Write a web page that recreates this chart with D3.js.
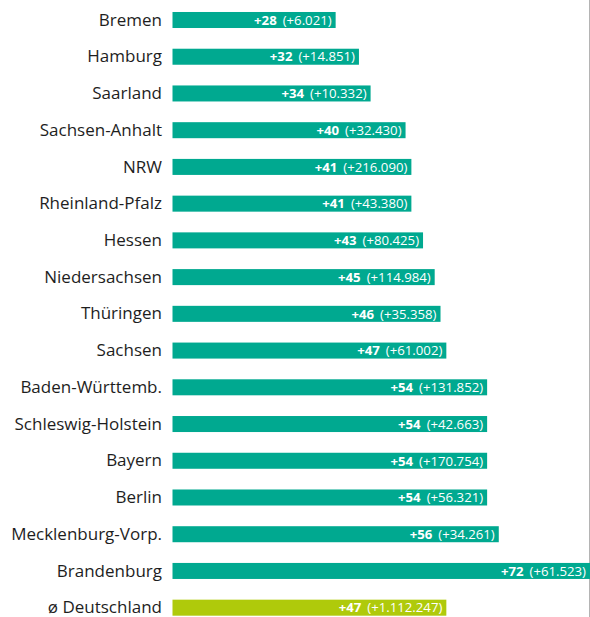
<!DOCTYPE html>
<html>
<head>
<meta charset="utf-8">
<script src="https://cdn.jsdelivr.net/npm/d3@7"></script>
<style>
  html, body { margin: 0; padding: 0; background: #fff; }
  svg { display: block; }
</style>
</head>
<body>
<script>
'use strict';

// values
const states = ['Bremen', 'Hamburg', 'Saarland', 'Sachsen-Anhalt', 'NRW', 'Rheinland-Pfalz',
  'Hessen', 'Niedersachsen', 'Thüringen', 'Sachsen', 'Baden-Württemb.', 'Schleswig-Holstein',
  'Bayern', 'Berlin', 'Mecklenburg-Vorp.', 'Brandenburg', 'ø Deutschland'];
const percent = [28, 32, 34, 40, 41, 41, 43, 45, 46, 47, 54, 54, 54, 54, 56, 72, 47];
const absolute = ['6.021', '14.851', '10.332', '32.430', '216.090', '43.380', '80.425',
  '114.984', '35.358', '61.002', '131.852', '42.663', '170.754', '56.321', '34.261',
  '61.523', '1.112.247'];

const width = 590;
const height = 617;
const labelX = 162;
const teal = '#00a990';
const lime = '#afca0b';
const font = '"Open Sans", sans-serif';

const data = states.map((name, i) => ({ name, pct: percent[i], abs: absolute[i] }));

const svg = d3.select('body').append('svg')
  .attr('width', width)
  .attr('height', height);

const x = d3.scaleLinear()
  .domain([0, 72])
  .range([172.5, 592]);

const step = 36.73;
const y = d3.scaleBand()
  .domain(states)
  .range([20 - step / 2, 20 - step / 2 + step * states.length])
  .paddingInner(0.564)
  .paddingOuter(0.282);

// thin reference line on the right edge
svg.append('line')
  .attr('x1', 589.5).attr('x2', 589.5)
  .attr('y1', 0).attr('y2', height)
  .attr('stroke', '#b4b4b4')
  .attr('stroke-width', 1);

const row = svg.selectAll('.row')
  .data(data)
  .enter().append('g')
  .attr('class', 'row');

row.append('text')
  .attr('x', labelX)
  .attr('y', (d) => y(d.name) + y.bandwidth() / 2)
  .attr('dy', '0.33em')
  .attr('text-anchor', 'end')
  .attr('fill', '#1e1e1e')
  .style('font-family', font)
  .style('font-size', '17px')
  .text((d) => d.name);

row.append('rect')
  .attr('x', x(0))
  .attr('y', (d) => y(d.name))
  .attr('width', (d) => x(d.pct) - x(0))
  .attr('height', y.bandwidth())
  .attr('fill', (d, i) => i === data.length - 1 ? lime : teal);

const val = row.append('text')
  .attr('x', (d) => Math.min(x(d.pct), 590) - 4)
  .attr('y', (d) => y(d.name) + y.bandwidth() / 2)
  .attr('dy', '0.36em')
  .attr('text-anchor', 'end')
  .attr('fill', '#fff')
  .style('font-family', font)
  .style('font-size', '13.2px');

val.append('tspan')
  .style('font-weight', 'bold')
  .text((d) => '+' + d.pct);

val.append('tspan')
  .attr('dx', 6)
  .text((d) => '(+' + d.abs + ')');
</script>
</body>
</html>
